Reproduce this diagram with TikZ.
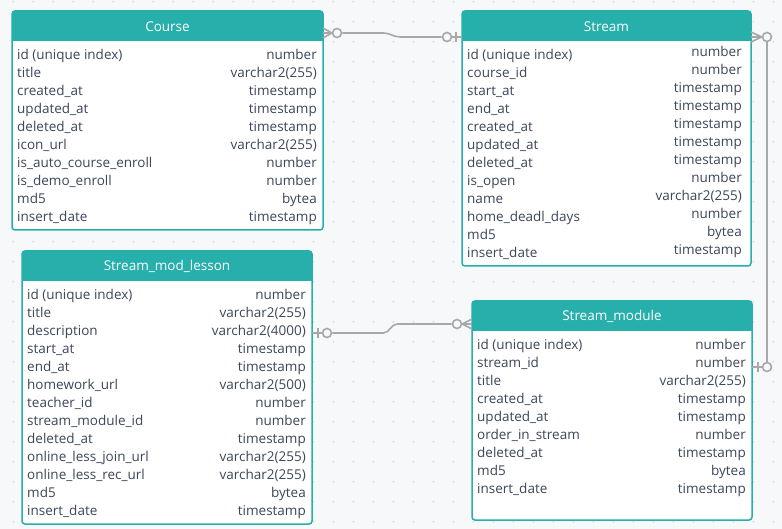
\documentclass[tikz,border=0pt]{standalone}
\usepackage{fontspec}
\setmainfont{Open Sans}
\usepackage{tikz}
\usetikzlibrary{positioning}
\definecolor{canvasbg}{HTML}{F7F8FA}
\definecolor{griddot}{HTML}{D6DAE0}
\definecolor{tablecolor}{HTML}{26AFAB}
\definecolor{linkgray}{HTML}{A8A8A8}
\definecolor{fieldtext}{HTML}{3C475A}
\tikzset{
	tablebox/.append style={
		draw=tablecolor,
		fill=white,
		line width=1.5pt,
		rounded corners=3pt,
		anchor=north west,
		inner sep=0pt,
		outer sep=0pt,
	},
	tablehead/.append style={
		text=white,
		font={\fontsize{13.5}{16}\selectfont},
		minimum height=30pt,
		inner sep=0pt,
	},
	fieldnames/.append style={
		text=fieldtext,
		font={\fontsize{13.5}{18}\selectfont},
		inner sep=0pt,
		anchor=base west,
	},
	fieldtypes/.append style={
		fieldnames,
		anchor=base east,
	},
	link/.append style={
		draw=linkgray,
		line width=1.6pt,
	},
	optional/.append style={
		circle,
		draw=linkgray,
		fill=canvasbg,
		line width=1.6pt,
		minimum size=9pt,
		inner sep=0pt,
	},
}

\begin{document}
\begin{tikzpicture}[x=1pt, y=-1pt]
	\useasboundingbox (0,0) rectangle (782,529);
	\fill[canvasbg] (0,0) rectangle (782,529);
	\foreach \x in {13.3,33.3,...,780}
		\foreach \y in {1.7,21.7,...,529}
			\fill[griddot] (\x,\y) circle (1pt);
	
	% tables
	\node (course)[tablebox, minimum width=311pt, minimum height=219pt] at (12,11) {};
	\node (stream)[tablebox, minimum width=289pt, minimum height=255pt] at (462,11) {};
	\node (lesson)[tablebox, minimum width=290pt, minimum height=273pt] at (22,251) {};
	\node (module)[tablebox, minimum width=280pt, minimum height=219pt] at (472,301) {};
	
	\foreach \t in {course, stream, lesson, module}
		\fill[tablecolor] ([yshift=-30pt]\t.north west) [rounded corners=3pt] -- (\t.north west) -- (\t.north east) [sharp corners] -- ([yshift=-30pt]\t.north east) -- cycle;
	
	\node (coursehead)[tablehead, below=0pt of course.north]{Course};
	\node (streamhead)[tablehead, below=0pt of stream.north]{Stream};
	\node (lessonhead)[tablehead, below=0pt of lesson.north]{Stream\_mod\_lesson};
	\node (modulehead)[tablehead, below=0pt of module.north]{Stream\_module};
	
	\node (coursenames)[fieldnames] at ([xshift=5pt, yshift=-48.5pt]course.north west) {\begin{tabular}[t]{@{}l@{}}
		id (unique index)\\ title\\ created\_at\\ updated\_at\\ deleted\_at\\ icon\_url\\ is\_auto\_course\_enroll\\ is\_demo\_enroll\\ md5\\ insert\_date
	\end{tabular}};
	\node (coursetypes)[fieldtypes] at ([xshift=-6pt, yshift=-48.5pt]course.north east) {\begin{tabular}[t]{@{}r@{}}
		number\\ varchar2(255)\\ timestamp\\ timestamp\\ timestamp\\ varchar2(255)\\ number\\ number\\ bytea\\ timestamp
	\end{tabular}};
	
	\node (streamnames)[fieldnames] at ([xshift=5pt, yshift=-48.5pt]stream.north west) {\begin{tabular}[t]{@{}l@{}}
		id (unique index)\\ course\_id\\ start\_at\\ end\_at\\ created\_at\\ updated\_at\\ deleted\_at\\ is\_open\\ name\\ home\_deadl\_days\\ md5\\ insert\_date
	\end{tabular}};
	\node (streamtypes)[fieldtypes] at ([xshift=-9pt, yshift=-45.5pt]stream.north east) {\begin{tabular}[t]{@{}r@{}}
		number\\ number\\ timestamp\\ timestamp\\ timestamp\\ timestamp\\ timestamp\\ number\\ varchar2(255)\\ number\\ bytea\\ timestamp
	\end{tabular}};
	
	\node (lessonnames)[fieldnames] at ([xshift=5pt, yshift=-48.5pt]lesson.north west) {\begin{tabular}[t]{@{}l@{}}
		id (unique index)\\ title\\ description\\ start\_at\\ end\_at\\ homework\_url\\ teacher\_id\\ stream\_module\_id\\ deleted\_at\\ online\_less\_join\_url\\ online\_less\_rec\_url\\ md5\\ insert\_date
	\end{tabular}};
	\node (lessontypes)[fieldtypes] at ([xshift=-6pt, yshift=-48.5pt]lesson.north east) {\begin{tabular}[t]{@{}r@{}}
		number\\ varchar2(255)\\ varchar2(4000)\\ timestamp\\ timestamp\\ varchar2(500)\\ number\\ number\\ timestamp\\ varchar2(255)\\ varchar2(255)\\ bytea\\ timestamp
	\end{tabular}};
	
	\node (modulenames)[fieldnames] at ([xshift=5pt, yshift=-48.5pt]module.north west) {\begin{tabular}[t]{@{}l@{}}
		id (unique index)\\ stream\_id\\ title\\ created\_at\\ updated\_at\\ order\_in\_stream\\ deleted\_at\\ md5\\ insert\_date
	\end{tabular}};
	\node (moduletypes)[fieldtypes] at ([xshift=-6pt, yshift=-48.5pt]module.north east) {\begin{tabular}[t]{@{}r@{}}
		number\\ number\\ varchar2(255)\\ timestamp\\ timestamp\\ number\\ timestamp\\ bytea\\ timestamp
	\end{tabular}};
	
	% Course -- Stream
	\node (c1many)[optional] at ([xshift=14pt, yshift=-22pt]course.north east) {};
	\node (c1one)[optional] at ([xshift=-15pt, yshift=-26pt]stream.north west) {};
	\draw[link] ([yshift=-17pt]course.north east) -- (c1many.west) -- ([yshift=-27pt]course.north east);
	\draw[link] (c1many.west -| course.east) -- (c1many.west);
	\draw[link] (c1many.east) -- ++(41,0) to[out=0, in=180] ++(17,4) -- (c1one.west);
	\draw[link] (c1one.east) -- (c1one -| stream.west);
	\draw[link] ([xshift=-6pt, yshift=-21pt]stream.north west) -- ([xshift=-6pt, yshift=-31pt]stream.north west);
	
	% Stream -- Stream_module
	\node (c2many)[optional] at ([xshift=16pt, yshift=-26pt]stream.north east) {};
	\node (c2one)[optional] at ([xshift=15pt, yshift=-66pt]module.north east) {};
	\draw[link] ([yshift=-21pt]stream.north east) -- (c2many.west) -- ([yshift=-31pt]stream.north east);
	\draw[link] (c2many.west -| stream.east) -- (c2many.west);
	\draw[link] (c2many.south) -- (c2one.north);
	\draw[link] (c2one.west) -- (c2one -| module.east);
	\draw[link] ([xshift=6pt, yshift=-61pt]module.north east) -- ([xshift=6pt, yshift=-71pt]module.north east);
	
	% Stream_mod_lesson -- Stream_module
	\node (c3one)[optional] at ([xshift=15pt, yshift=-82pt]lesson.north east) {};
	\node (c3many)[optional] at ([xshift=-15pt, yshift=-23pt]module.north west) {};
	\draw[link] (c3one.west) -- (c3one -| lesson.east);
	\draw[link] ([xshift=6pt, yshift=-77pt]lesson.north east) -- ([xshift=6pt, yshift=-87pt]lesson.north east);
	\draw[link] (c3one.east) -- ++(51,0) to[out=0, in=180] ++(14,-9) -- (c3many.west);
	\draw[link] ([yshift=-18pt]module.north west) -- (c3many.east) -- ([yshift=-28pt]module.north west);
	\draw[link] (c3many.east) -- (c3many.east -| module.west);
	
\end{tikzpicture}
\end{document}
